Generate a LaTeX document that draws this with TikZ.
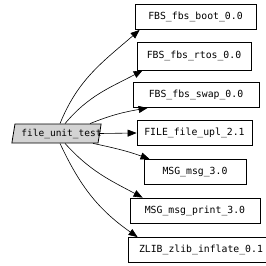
\documentclass[tikz,border=0pt]{standalone}
\usepackage{fontspec}
\setmonofont{DejaVu Sans Mono}
\usetikzlibrary{shapes.geometric,arrows.meta}
\definecolor{unitfill}{RGB}{211,211,211}
\tikzset{
    pkg/.style={draw, line width=0.8pt, font=\ttfamily\fontsize{9.8}{11}\selectfont, inner sep=0pt, minimum height=25pt},
    unit/.style={draw, line width=0.8pt, fill=unitfill, trapezium, trapezium left angle=72, trapezium right angle=108,
        trapezium stretches=true, font=\ttfamily\fontsize{9.5}{11}\selectfont, inner xsep=1.5pt, inner ysep=0pt, minimum height=19pt},
    dep/.style={-{Triangle[length=9pt,width=7pt]}, line width=0.6pt}
}
\begin{document}
\begin{tikzpicture}[x=1pt,y=1pt]
            \useasboundingbox (0,0) rectangle (266,-266);

            % the test and the packages it pulls in
            \node[unit] (unittest) at (56.5,-133.5) {\hspace*{5pt}file\_unit\_test\hspace*{-5pt}};
            \node[pkg, minimum width=121pt] (boot)  at (195.5,-17)  {FBS\_fbs\_boot\_0.0};
            \node[pkg, minimum width=114pt, minimum height=28pt] (rtos) at (194,-56) {FBS\_fbs\_rtos\_0.0};
            \node[pkg, minimum width=126pt] (swap)  at (196,-95)    {FBS\_fbs\_swap\_0.0};
            \node[pkg, minimum width=115pt] (upl)   at (194.5,-133) {FILE\_file\_upl\_2.1};
            \node[pkg, minimum width=102pt] (msg)   at (195,-172)   {MSG\_msg\_3.0};
            \node[pkg, minimum width=130pt] (print) at (195,-210.5) {MSG\_msg\_print\_3.0};
            \node[pkg, minimum width=146pt] (zlib)  at (201,-250)   {ZLIB\_zlib\_inflate\_0.1};

            \draw[dep] ([xshift=3.5pt]unittest.north) to[out=68,in=221] ([xshift=5pt]boot.south west);
            \draw[dep] ([xshift=8.5pt]unittest.north) to[out=50,in=208] ([xshift=6pt]rtos.south west);
            \draw[dep] ([xshift=33.5pt]unittest.north) to[out=22,in=190] ([xshift=15pt]swap.south west);
            \draw[dep] (unittest.east) -- (upl.west);
            \draw[dep] ([xshift=36.5pt]unittest.south) to[out=-12,in=160] ([xshift=6pt]msg.north west);
            \draw[dep] ([xshift=8.5pt]unittest.south) to[out=-48,in=152] ([xshift=13pt]print.north west);
            \draw[dep] ([xshift=3.5pt]unittest.south) to[out=-65,in=145] ([xshift=10pt]zlib.north west);
\end{tikzpicture}
\end{document}
